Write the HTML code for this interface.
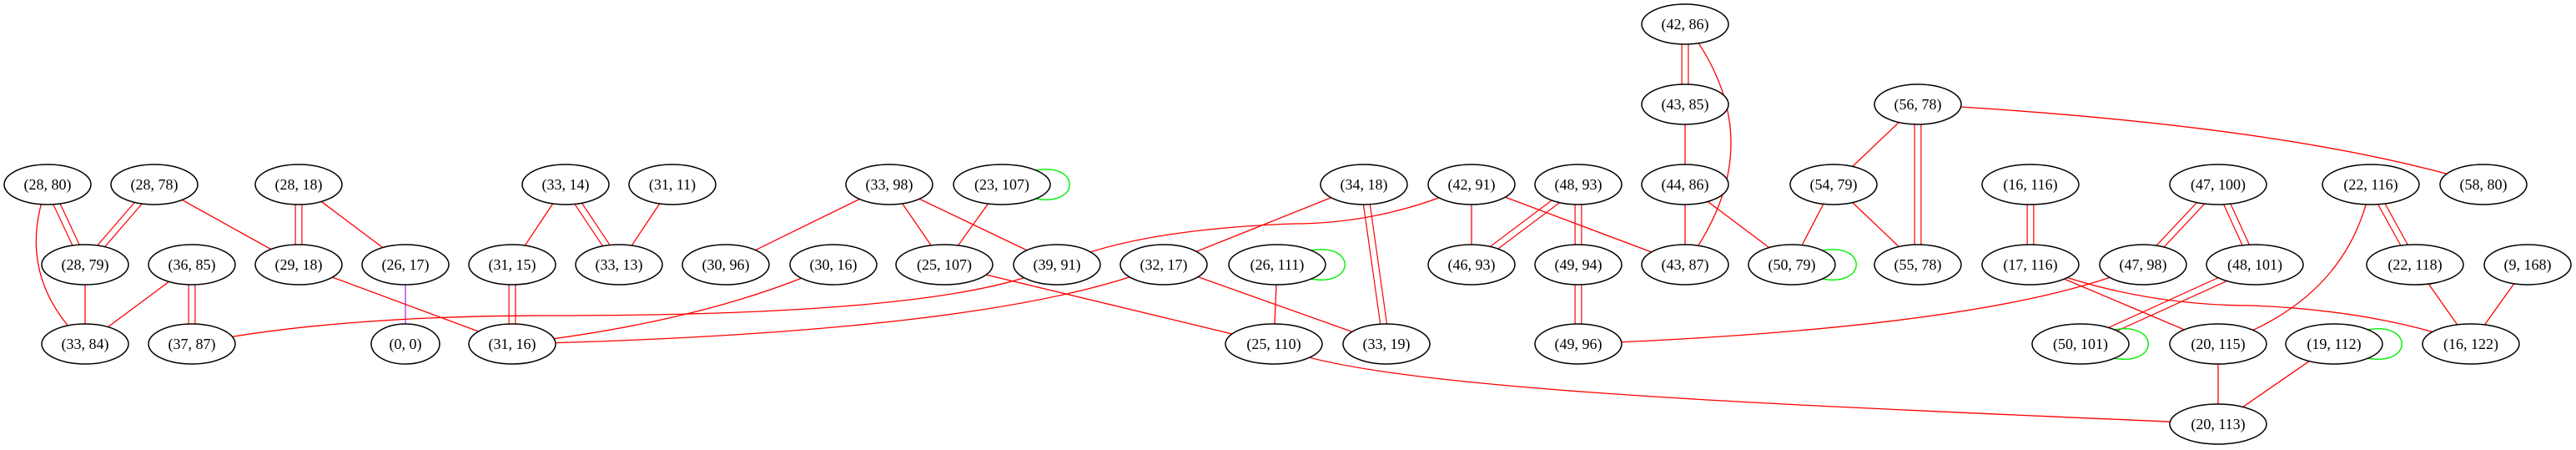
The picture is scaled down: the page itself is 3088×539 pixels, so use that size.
<!DOCTYPE html>
<html><head><meta charset="utf-8"><style>
html,body{margin:0;padding:0;background:#fff;}
svg{display:block}
text{font-family:"Liberation Serif",serif;font-size:18px;text-anchor:middle;dominant-baseline:central;fill:#000}
.e{stroke:#f00;stroke-width:1.3;fill:none}
.d1{stroke:#f00;stroke-width:9;fill:none}
.d2{stroke:#fff;stroke-width:6.6;fill:none}
.l{stroke:#0e0;stroke-width:1.4;fill:none}
ellipse{fill:#fff;stroke:#000;stroke-width:1.5}
</style></head><body>
<svg width="3088" height="539" viewBox="0 0 3088 539" xmlns="http://www.w3.org/2000/svg">
<!-- double edges -->
<g>
<path class="d1" d="M57,221L102,317M185,221L102,317M358,221L358,317M230,317L230,412M678,221L742,317M614,317L614,412M1635,221L1662,412M1892,221L1764,317M1892,221L1892,317M1892,317L1892,412M2020,29L2020,125M2299,125L2299,317M2434,221L2434,317M2659,221L2569,317M2659,221L2703,317M2842,221L2895,317M2703,317L2494,412"/>
<path class="d2" d="M57,221L102,317M185,221L102,317M358,221L358,317M230,317L230,412M678,221L742,317M614,317L614,412M1635,221L1662,412M1892,221L1764,317M1892,221L1892,317M1892,317L1892,412M2020,29L2020,125M2299,125L2299,317M2434,221L2434,317M2659,221L2569,317M2659,221L2703,317M2842,221L2895,317M2703,317L2494,412"/>
</g>
<!-- single edges -->
<path class="e" d="M57,221Q15,330 102,412"/>
<path class="e" d="M185,221L358,317"/>
<path class="e" d="M358,221L486,317"/>
<path d="M486,317L486,412" stroke="#a020f0" stroke-width="1.2"/>
<path class="e" d="M102,317L102,412"/>
<path class="e" d="M230,317L102,412"/>
<path class="e" d="M358,317L614,412"/>
<path class="e" d="M678,221L614,317"/>
<path class="e" d="M806,221L742,317"/>
<path class="e" d="M1066,221L870,317"/>
<path class="e" d="M999,317Q850,385 614,412"/>
<path class="e" d="M1267,317Q1150,378 660,378Q400,378 230,412"/>
<path class="e" d="M1395,317Q1200,398 614,412"/>
<path class="e" d="M1066,221L1132,317"/>
<path class="e" d="M1066,221L1267,317"/>
<path class="e" d="M1201,221L1132,317"/>
<path class="e" d="M1635,221L1395,317"/>
<path class="e" d="M1764,221Q1660,268 1550,268Q1360,275 1267,317"/>
<path class="e" d="M1764,221L1764,317"/>
<path class="e" d="M1764,221L2020,317"/>
<path class="e" d="M2020,221L2020,317"/>
<path class="e" d="M2020,221L2148,317"/>
<path class="e" d="M2020,29Q2130,170 2020,317"/>
<path class="e" d="M2020,125L2020,221"/>
<path class="e" d="M1132,317L1527,412"/>
<path class="e" d="M1395,317L1662,412"/>
<path class="e" d="M1531,317L1527,412"/>
<path class="e" d="M1527,412C1620,472 2300,490 2659,508"/>
<path class="e" d="M2299,125L2198,221"/>
<path class="e" d="M2299,125Q2750,150 2977,221"/>
<path class="e" d="M2198,221L2148,317"/>
<path class="e" d="M2198,221L2299,317"/>
<path class="e" d="M2842,221Q2815,360 2659,412"/>
<path class="e" d="M2569,317Q2400,392 1892,412"/>
<path class="e" d="M2434,317L2659,412"/>
<path class="e" d="M2434,317Q2560,366 2700,366Q2850,372 2962,412"/>
<path class="e" d="M2895,317L2962,412"/>
<path class="e" d="M3030,317L2962,412"/>
<path class="e" d="M2659,412L2659,508"/>
<path class="e" d="M2798,412L2659,508"/>
<!-- self loops -->
<path class="l" d="M1241,204C1296,194 1296,248 1241,238"/>
<path class="l" d="M1571,300C1626,290 1626,344 1571,334"/>
<path class="l" d="M2184,300C2239,290 2239,344 2184,334"/>
<path class="l" d="M2534,395C2589,385 2589,439 2534,429"/>
<path class="l" d="M2838,395C2893,385 2893,439 2838,429"/>
<!-- nodes -->
<g>
<ellipse cx="57" cy="221" rx="52" ry="24"/><text x="57" y="221">(28, 80)</text>
<ellipse cx="185" cy="221" rx="52" ry="24"/><text x="185" y="221">(28, 78)</text>
<ellipse cx="358" cy="221" rx="52" ry="24"/><text x="358" y="221">(28, 18)</text>
<ellipse cx="678" cy="221" rx="52" ry="24"/><text x="678" y="221">(33, 14)</text>
<ellipse cx="806" cy="221" rx="52" ry="24"/><text x="806" y="221">(31, 11)</text>
<ellipse cx="102" cy="317" rx="52" ry="24"/><text x="102" y="317">(28, 79)</text>
<ellipse cx="230" cy="317" rx="52" ry="24"/><text x="230" y="317">(36, 85)</text>
<ellipse cx="358" cy="317" rx="52" ry="24"/><text x="358" y="317">(29, 18)</text>
<ellipse cx="486" cy="317" rx="52" ry="24"/><text x="486" y="317">(26, 17)</text>
<ellipse cx="614" cy="317" rx="52" ry="24"/><text x="614" y="317">(31, 15)</text>
<ellipse cx="742" cy="317" rx="52" ry="24"/><text x="742" y="317">(33, 13)</text>
<ellipse cx="870" cy="317" rx="52" ry="24"/><text x="870" y="317">(30, 96)</text>
<ellipse cx="999" cy="317" rx="52" ry="24"/><text x="999" y="317">(30, 16)</text>
<ellipse cx="102" cy="412" rx="52" ry="24"/><text x="102" y="412">(33, 84)</text>
<ellipse cx="230" cy="412" rx="52" ry="24"/><text x="230" y="412">(37, 87)</text>
<ellipse cx="486" cy="412" rx="41" ry="24"/><text x="486" y="412">(0, 0)</text>
<ellipse cx="614" cy="412" rx="52" ry="24"/><text x="614" y="412">(31, 16)</text>
<ellipse cx="1066" cy="221" rx="52" ry="24"/><text x="1066" y="221">(33, 98)</text>
<ellipse cx="1201" cy="221" rx="58" ry="24"/><text x="1201" y="221">(23, 107)</text>
<ellipse cx="1635" cy="221" rx="52" ry="24"/><text x="1635" y="221">(34, 18)</text>
<ellipse cx="1764" cy="221" rx="52" ry="24"/><text x="1764" y="221">(42, 91)</text>
<ellipse cx="1892" cy="221" rx="52" ry="24"/><text x="1892" y="221">(48, 93)</text>
<ellipse cx="2020" cy="221" rx="52" ry="24"/><text x="2020" y="221">(44, 86)</text>
<ellipse cx="2020" cy="29" rx="52" ry="24"/><text x="2020" y="29">(42, 86)</text>
<ellipse cx="2020" cy="125" rx="52" ry="24"/><text x="2020" y="125">(43, 85)</text>
<ellipse cx="1132" cy="317" rx="58" ry="24"/><text x="1132" y="317">(25, 107)</text>
<ellipse cx="1267" cy="317" rx="52" ry="24"/><text x="1267" y="317">(39, 91)</text>
<ellipse cx="1395" cy="317" rx="52" ry="24"/><text x="1395" y="317">(32, 17)</text>
<ellipse cx="1531" cy="317" rx="58" ry="24"/><text x="1531" y="317">(26, 111)</text>
<ellipse cx="1764" cy="317" rx="52" ry="24"/><text x="1764" y="317">(46, 93)</text>
<ellipse cx="1892" cy="317" rx="52" ry="24"/><text x="1892" y="317">(49, 94)</text>
<ellipse cx="2020" cy="317" rx="52" ry="24"/><text x="2020" y="317">(43, 87)</text>
<ellipse cx="1527" cy="412" rx="58" ry="24"/><text x="1527" y="412">(25, 110)</text>
<ellipse cx="1662" cy="412" rx="52" ry="24"/><text x="1662" y="412">(33, 19)</text>
<ellipse cx="1892" cy="412" rx="52" ry="24"/><text x="1892" y="412">(49, 96)</text>
<ellipse cx="2299" cy="125" rx="52" ry="24"/><text x="2299" y="125">(56, 78)</text>
<ellipse cx="2198" cy="221" rx="52" ry="24"/><text x="2198" y="221">(54, 79)</text>
<ellipse cx="2434" cy="221" rx="58" ry="24"/><text x="2434" y="221">(16, 116)</text>
<ellipse cx="2659" cy="221" rx="58" ry="24"/><text x="2659" y="221">(47, 100)</text>
<ellipse cx="2842" cy="221" rx="58" ry="24"/><text x="2842" y="221">(22, 116)</text>
<ellipse cx="2977" cy="221" rx="52" ry="24"/><text x="2977" y="221">(58, 80)</text>
<ellipse cx="2148" cy="317" rx="52" ry="24"/><text x="2148" y="317">(50, 79)</text>
<ellipse cx="2299" cy="317" rx="52" ry="24"/><text x="2299" y="317">(55, 78)</text>
<ellipse cx="2434" cy="317" rx="58" ry="24"/><text x="2434" y="317">(17, 116)</text>
<ellipse cx="2569" cy="317" rx="52" ry="24"/><text x="2569" y="317">(47, 98)</text>
<ellipse cx="2703" cy="317" rx="58" ry="24"/><text x="2703" y="317">(48, 101)</text>
<ellipse cx="2895" cy="317" rx="58" ry="24"/><text x="2895" y="317">(22, 118)</text>
<ellipse cx="3030" cy="317" rx="52" ry="24"/><text x="3030" y="317">(9, 168)</text>
<ellipse cx="2494" cy="412" rx="58" ry="24"/><text x="2494" y="412">(50, 101)</text>
<ellipse cx="2659" cy="412" rx="58" ry="24"/><text x="2659" y="412">(20, 115)</text>
<ellipse cx="2798" cy="412" rx="58" ry="24"/><text x="2798" y="412">(19, 112)</text>
<ellipse cx="2962" cy="412" rx="58" ry="24"/><text x="2962" y="412">(16, 122)</text>
<ellipse cx="2659" cy="508" rx="58" ry="24"/><text x="2659" y="508">(20, 113)</text>
</g>
</svg>
</body></html>
